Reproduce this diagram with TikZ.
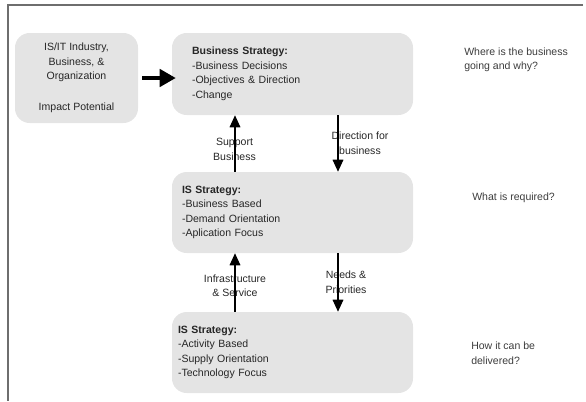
\documentclass[tikz,border=0pt]{standalone}
\usepackage{fontspec}
\setmainfont{Liberation Sans}
\usetikzlibrary{arrows.meta}
\definecolor{boxgray}{HTML}{E4E4E4}
\definecolor{txtgray}{HTML}{262626}
\definecolor{sidegray}{HTML}{3C3C3C}
\definecolor{framegray}{HTML}{6E6E6E}

\begin{document}
\begin{tikzpicture}[x=0.75pt,y=-0.75pt,auto=center,
		every node/.style={text=txtgray,font=\fontsize{7.9}{10.9}\selectfont},
		box/.style={fill=boxgray,rounded corners=11pt,inner ysep=0pt},
		stratbox/.style={box,minimum width=180.75pt,minimum height=60.75pt,align=left},
		lbl/.style={align=center,inner sep=0pt},
		side/.style={anchor=west,align=left,inner sep=0pt,text=sidegray},
		arr/.style={-{Triangle[length=9pt,width=8pt]},line width=0.9pt},
		bigarr/.style={-{Triangle[length=12pt,width=13pt]},line width=2.6pt}]

				\useasboundingbox (0,0) rectangle (586,401);
				\draw[framegray,line width=1.1pt] (583,5) -- (8,5) -- (8,401);

				\node[box,minimum width=92.25pt,minimum height=67.5pt,align=center] (impact) at (76.5,78) {IS/IT Industry,\\Business, \&\\Organization\\[12.3pt]Impact Potential};
				\node[stratbox,minimum height=61.5pt,inner xsep=15pt,text width=150.75pt] (bizstrat) at (292.5,74) {\textbf{Business Strategy:}\\-Business Decisions\\-Objectives \& Direction\\-Change};
				\node[stratbox,inner xsep=7.5pt,text width=165.75pt] (isdemand) at (292.5,212.5) {\textbf{IS Strategy:}\\-Business Based\\-Demand Orientation\\-Aplication Focus};
				\node[stratbox,inner xsep=4.5pt,text width=171.75pt] (issupply) at (292.5,352.5) {\textbf{IS Strategy:}\\-Activity Based\\-Supply Orientation\\-Technology Focus};

				\node[side] (qwhere) at (464,60) {Where is the business\\going and why?};
				\node[side] (qwhat) at (472,198) {What is required?};
				\node[side] (qhow) at (471,353) {How it can be\\delivered?};

				\node[lbl] (support) at (234.5,149.5) {Support\\Business};
				\node[lbl] (direction) at (360,143) {Direction for\\business};
				\node[lbl] (infra) at (235,285.5) {Infrastructure\\\& Service};
				\node[lbl] (needs) at (346,282) {Needs \&\\Priorities};

				\coordinate (leftx) at (235,0);
				\coordinate (rightx) at (338,0);

				\draw[bigarr] ([xshift=3pt]impact.east) -- ([xshift=3pt]impact.east -| bizstrat.west);
				\draw[arr] (isdemand.north -| leftx) -- (bizstrat.south -| leftx);
				\draw[arr] (bizstrat.south -| rightx) -- (isdemand.north -| rightx);
				\draw[arr] (issupply.north -| leftx) -- (isdemand.south -| leftx);
				\draw[arr] (isdemand.south -| rightx) -- (issupply.north -| rightx);

		\end{tikzpicture}
\end{document}
